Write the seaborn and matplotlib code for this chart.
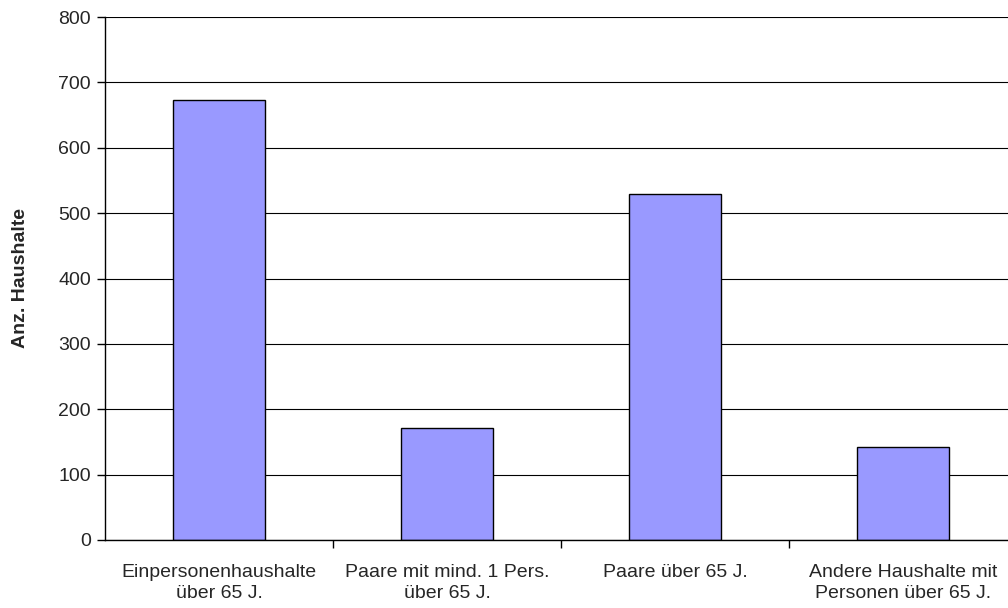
import numpy as np
import pandas as pd
import matplotlib
matplotlib.use('Agg')
import matplotlib.pyplot as plt
import seaborn as sns
from matplotlib.ticker import FixedLocator

# Data
categories = ['Einpersonenhaushalte\nüber 65 J.',
              'Paare mit mind. 1 Pers.\nüber 65 J.',
              'Paare über 65 J.',
              'Andere Haushalte mit\nPersonen über 65 J.']
households = [673, 171, 529, 143]
y_ticks = [0, 100, 200, 300, 400, 500, 600, 700, 800]

df = pd.DataFrame({'Kategorie': categories, 'Haushalte': households})

sns.set_style('white')
plt.rcParams['font.family'] = ['Liberation Sans', 'DejaVu Sans']

fig = plt.figure(figsize=(10.08, 6.08), dpi=100)
ax = fig.add_axes([105 / 1008, 68 / 608, 912 / 1008, 523 / 608])

# Gridlines behind the bars
ax.set_axisbelow(True)
ax.yaxis.grid(True, color='black', linewidth=0.8)
ax.xaxis.grid(False)

sns.barplot(data=df, x='Kategorie', y='Haushalte', order=categories,
            color='#9999FF', edgecolor='black', linewidth=1.0,
            width=0.40, saturation=1, ax=ax)

ax.set_ylim(0, 800)
ax.set_xlim(-0.5, len(categories) - 0.5)
ax.set_yticks(y_ticks)
ax.set_yticklabels([str(v) for v in y_ticks], fontsize=14)

# Category labels centred, tick marks between categories
ax.set_xticks(range(len(categories)))
ax.set_xticklabels(categories, fontsize=14, linespacing=1.35)
ax.tick_params(axis='x', which='major', length=0, pad=17)
ax.xaxis.set_minor_locator(FixedLocator(np.arange(0.5, len(categories) - 0.5, 1)))
ax.tick_params(axis='x', which='minor', length=6, width=1, color='black', direction='out', bottom=True)
ax.tick_params(axis='y', length=6, width=1, color='black', direction='out', left=True, pad=4)

ax.set_xlabel('')
ax.set_ylabel('Anz. Haushalte', fontsize=14, fontweight='bold')
ax.yaxis.set_label_coords(-0.083, 0.5)

for side in ['top', 'right']:
    ax.spines[side].set_visible(False)
for side in ['left', 'bottom']:
    ax.spines[side].set_color('black')
    ax.spines[side].set_linewidth(1.0)

plt.savefig('out.png', dpi=100)
